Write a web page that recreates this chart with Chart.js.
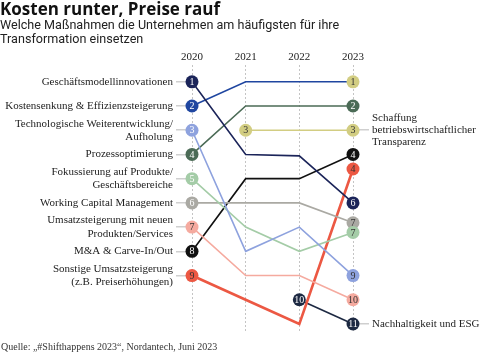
<!DOCTYPE html>
<html>
<head>
<meta charset="utf-8">
<script src="https://cdn.jsdelivr.net/npm/chart.js@4"></script>
<style>
  html, body { margin: 0; padding: 0; background: #fff; }
</style>
</head>
<body>
<canvas id="chart" width="488" height="358"></canvas>
<script>
// ---- data ----
const years = ['2020', '2021', '2022', '2023'];

// rank per year (null = not asked that year)
const geschaeftsmodell = [1, 4, 4, 6];
const kostensenkung    = [2, 1, 1, 1];
const technologie      = [3, 8, 7, 9];
const prozess          = [4, 2, 2, 2];
const fokussierung     = [5, 7, 8, 7];
const workingCapital   = [6, 6, 6, 7];
const neueProdukte     = [7, 9, 9, 10];
const mna              = [8, 5, 5, 4];
const sonstige         = [9, 10, 11, 4];
const transparenz      = [null, 3, 3, 3];
const esg              = [null, null, 10, 11];

const leftLabels = [
    'Geschäftsmodellinnovationen',
    'Kostensenkung & Effizienzsteigerung',
    ['Technologische Weiterentwicklung/', 'Aufholung'],
    'Prozessoptimierung',
    ['Fokussierung auf Produkte/', 'Geschäftsbereiche'],
    'Working Capital Management',
    ['Umsatzsteigerung mit neuen', 'Produkten/Services'],
    'M&A & Carve-In/Out',
    ['Sonstige Umsatzsteigerung', '(z.B. Preiserhöhungen)']
];
const rightLabels = {
    3: ['Schaffung', 'betriebswirtschaftlicher', 'Transparenz'],
    11: 'Nachhaltigkeit und ESG'
};

/*
    styling per line: colour, where a circle sits, circle fill / text colour,
    and a small nudge so tied ranks don't sit on top of each other
*/
const dots = [true, false, false, true];
const series = [
    { ranks: geschaeftsmodell, color: '#1b2459', show: dots, text: ['#fff', 0, 0, '#fff'], nudge: [0, 0, 0.06, 0] },
    { ranks: kostensenkung, color: '#1f46a0', show: dots, fill: [0, 0, 0, '#d2cd82'], text: ['#fff', 0, 0, '#333'] },
    { ranks: technologie, color: '#8ea2de', show: dots, text: ['#fff', 0, 0, '#333'] },
    { ranks: prozess, color: '#4b6b56', show: dots, text: ['#fff', 0, 0, '#fff'] },
    { ranks: fokussierung, color: '#a4cca7', show: dots, text: ['#fff', 0, 0, '#333'], nudge: [0, 0, 0, 0.22] },
    { ranks: workingCapital, color: '#aaa9a3', show: dots, text: ['#fff', 0, 0, '#333'], nudge: [0, 0, 0, -0.18] },
    { ranks: neueProdukte, color: '#f5aa9f', show: dots, text: ['#333', 0, 0, '#333'] },
    { ranks: mna, color: '#111111', show: dots, text: ['#fff', 0, 0, '#fff'] },
    { ranks: sonstige, color: '#ec5843', show: dots, text: ['#333', 0, 0, '#333'], nudge: [0, 0, 0, 0.6], width: 2.6 },
    { ranks: transparenz, color: '#d2cd82', show: [false, true, false, true], text: [0, '#333', 0, '#333'] },
    { ranks: esg, color: '#1d2942', show: [false, false, true, true], text: [0, 0, '#fff', '#fff'] }
];

var dataSet = series.map(s => ({
    data: s.ranks.map((r, i) => r == null ? null : r + (s.nudge ? s.nudge[i] : 0)),
    borderColor: s.color,
    borderWidth: s.width || 1.6,
    pointRadius: s.show.map(v => v ? 6.5 : 0),
    pointHoverRadius: s.show.map(v => v ? 6.5 : 0),
    pointBorderWidth: 0,
    pointBackgroundColor: s.ranks.map((r, i) => (s.fill && s.fill[i]) || s.color),
    tension: 0,
    clip: false
}));

const rankText = {
    id: 'rankText',
    afterDatasetDraw(chart, args) {
        const s = series[args.index];
        const ctx = chart.ctx;
        args.meta.data.forEach((pt, i) => {
            if (!s.show[i] || s.ranks[i] == null) return;
            ctx.save();
            ctx.font = '10px "Liberation Serif"';
            ctx.fillStyle = s.text[i];
            ctx.textAlign = 'center';
            ctx.textBaseline = 'middle';
            ctx.fillText(String(s.ranks[i]), pt.x, pt.y + 0.5);
            ctx.restore();
        });
    }
};

const sourceLine = {
    id: 'sourceLine',
    afterDraw(chart) {
        const ctx = chart.ctx;
        ctx.save();
        ctx.font = '10px "Liberation Serif"';
        ctx.fillStyle = '#333';
        ctx.textBaseline = 'middle';
        ctx.fillText('Quelle: „#Shifthappens 2023“, Nordantech, Juni 2023', 1, 347);
        ctx.restore();
    }
};

const labelFont = { family: 'Liberation Serif', size: 11, lineHeight: 1.2 };

new Chart(document.getElementById('chart'), {
    type: 'line',
    data: { labels: years, datasets: dataSet },
    options: {
        responsive: false,
        animation: false,
        devicePixelRatio: 1,
        layout: { padding: { bottom: 27 } },
        plugins: {
            legend: { display: false },
            tooltip: { enabled: false },
            title: {
                display: true,
                text: 'Kosten runter, Preise rauf',
                align: 'start',
                color: '#111',
                font: { family: 'Open Sans', size: 17, weight: 'bold', lineHeight: 1.05 },
                padding: { top: 1, bottom: 0 }
            },
            subtitle: {
                display: true,
                text: ['Welche Maßnahmen die Unternehmen am häufigsten für ihre', 'Transformation einsetzen'],
                align: 'start',
                color: '#222',
                font: { family: 'Roboto', size: 12.6, lineHeight: 1.12 },
                padding: { top: 0, bottom: 0 }
            }
        },
        scales: {
            x: {
                position: 'top',
                offset: false,
                afterFit(scale) { scale.height = 18; },
                grid: { color: '#c4c4c4', lineWidth: 1, drawTicks: false },
                border: { display: false, dash: [2, 2] },
                ticks: { color: '#222', font: { family: 'Liberation Serif', size: 11 }, padding: 1 }
            },
            y: {
                position: 'left',
                reverse: true,
                min: 0.31,
                max: 11.29,
                afterBuildTicks(scale) {
                    scale.ticks = leftLabels.map((l, i) => ({ value: i + 1 }));
                },
                afterFit(scale) { scale.width = 192; },
                grid: { drawOnChartArea: false, tickLength: 16, color: '#cfcfcf', lineWidth: 1.5 },
                border: { display: false },
                ticks: {
                    autoSkip: false,
                    padding: 3,
                    color: '#222',
                    font: labelFont,
                    callback: (v) => leftLabels[v - 1]
                }
            },
            y2: {
                position: 'right',
                reverse: true,
                min: 0.31,
                max: 11.29,
                afterBuildTicks(scale) {
                    scale.ticks = Object.keys(rightLabels).map(k => ({ value: Number(k) }));
                },
                afterFit(scale) { scale.width = 135; },
                grid: { drawOnChartArea: false, tickLength: 16, color: '#cfcfcf', lineWidth: 1.5 },
                border: { display: false },
                ticks: {
                    autoSkip: false,
                    padding: 3,
                    color: '#222',
                    font: { family: 'Liberation Serif', size: 11, lineHeight: 1.1 },
                    callback: (v) => rightLabels[v]
                }
            }
        }
    },
    plugins: [rankText, sourceLine]
});
</script>
</body>
</html>
